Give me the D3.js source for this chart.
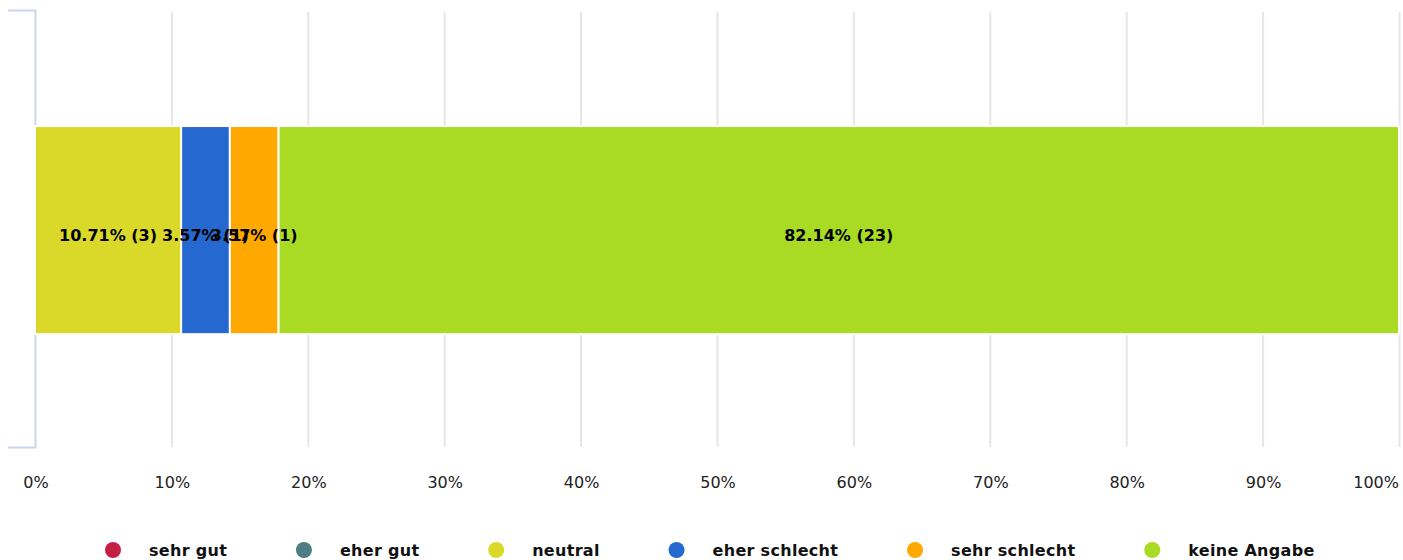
<!DOCTYPE html>
<html>
<head>
<meta charset="utf-8">
<script src="https://cdn.jsdelivr.net/npm/d3@7"></script>
<style>
  body { margin: 0; background: #fff; }
  svg { display: block; font-family: "DejaVu Sans", sans-serif; }
</style>
</head>
<body>
<div id="chart"></div>
<script>
// answer categories, counts (28 answers total) and colours
const categories = ["sehr gut", "eher gut", "neutral", "eher schlecht", "sehr schlecht", "keine Angabe"];
const counts = [0, 0, 3, 1, 1, 23];
const colors = ["#c42046", "#4f7d84", "#dad829", "#2468d0", "#ffa800", "#a9db25"];
const tickValues = [0, 10, 20, 30, 40, 50, 60, 70, 80, 90, 100];
const rows = [""];

const width = 1403, height = 560;
const margin = { top: 10, right: 4, bottom: 113, left: 35 };

const svg = d3.select("#chart").append("svg")
    .attr("width", width)
    .attr("height", height);

const total = d3.sum(counts);
let acc = 0;
const segments = categories.map((c, i) => {
    const pct = counts[i] / total * 100;
    const s = { cat: c, count: counts[i], pct: pct, x0: acc, x1: acc + pct, color: colors[i] };
    acc += pct;
    return s;
}).filter(d => d.count > 0);

const x = d3.scaleLinear()
    .domain([0, 100])
    .range([margin.left, width - margin.right]);

const y = d3.scaleBand()
    .domain(rows)
    .range([margin.top, height - margin.bottom])
    .paddingInner(0.5)
    .paddingOuter(0.275)
    .align(0.507);

// vertical grid lines
svg.append("g")
    .selectAll("line")
    .data(tickValues.slice(1))
    .enter().append("line")
    .attr("x1", d => x(d) + 0.5).attr("x2", d => x(d) + 0.5)
    .attr("y1", margin.top + 2)
    .attr("y2", height - margin.bottom)
    .style("stroke", "#e6e6e6")
    .style("stroke-width", 2);

// x tick labels (last one kept inside the frame)
svg.append("g")
    .selectAll("text")
    .data(tickValues)
    .enter().append("text")
    .attr("x", d => d === 100 ? width - 4 : x(d) + 1)
    .attr("y", 482)
    .attr("dy", "0.35em")
    .attr("text-anchor", d => d === 100 ? "end" : "middle")
    .style("font-size", "16px")
    .style("fill", "#222")
    .text(d => d + "%");

// left category axis
const yAxis = d3.axisLeft(y).tickSizeInner(0).tickSizeOuter(27).tickFormat("");
const ga = svg.append("g")
    .attr("transform", "translate(" + margin.left + ",0)")
    .call(yAxis);
ga.select(".domain").style("stroke", "#ccd6eb").style("stroke-width", 2);
ga.selectAll(".tick").remove();

// stacked segments
const bar = svg.append("g");
bar.selectAll("rect")
    .data(segments)
    .enter().append("rect")
    .attr("x", d => x(d.x0))
    .attr("width", d => x(d.x1) - x(d.x0))
    .attr("y", y(""))
    .attr("height", y.bandwidth())
    .style("fill", d => d.color)
    .style("stroke", "#fff")
    .style("stroke-width", 2);

bar.selectAll("text")
    .data(segments)
    .enter().append("text")
    .attr("x", d => x((d.x0 + d.x1) / 2))
    .attr("y", y("") + y.bandwidth() / 2 + 5)
    .attr("dy", "0.35em")
    .attr("text-anchor", "middle")
    .style("font-size", "16px")
    .style("font-weight", "bold")
    .style("fill", "#000")
    .text(d => d.pct.toFixed(2) + "% (" + d.count + ")");

// legend
const legend = svg.append("g").attr("transform", "translate(0,550)");
let lx = 113;
categories.forEach((c, i) => {
    const item = legend.append("g").attr("transform", "translate(" + lx + ",0)");
    item.append("circle").attr("r", 8).style("fill", colors[i]);
    const t = item.append("text")
        .attr("x", 36)
        .attr("dy", "0.35em")
        .style("font-size", "16px")
        .style("font-weight", "bold")
        .style("letter-spacing", "0.3px")
        .style("fill", "#111")
        .text(c);
    lx += 36 + t.node().getComputedTextLength() + 76.8;
});
</script>
</body>
</html>
